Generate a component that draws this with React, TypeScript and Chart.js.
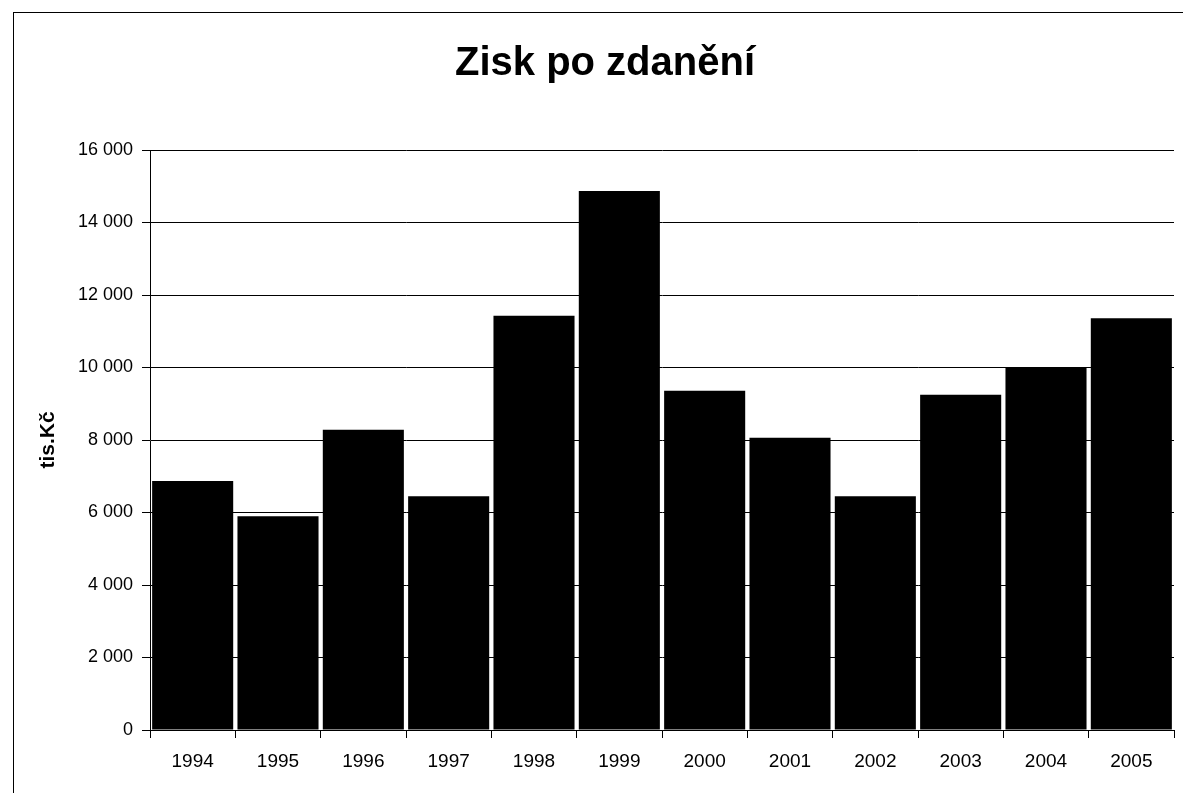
import React, { useEffect, useRef } from "react";
import { Chart, registerables } from "chart.js";

Chart.register(...registerables);

const chartTitle = "Zisk po zdanění";
const yAxisTitle = "tis.Kč";
const years = ["1994", "1995", "1996", "1997", "1998", "1999", "2000", "2001", "2002", "2003", "2004", "2005"];
const profit = [6870, 5900, 8280, 6450, 11430, 14870, 9360, 8060, 6450, 9250, 10010, 11360];
const yMin = 0;
const yMax = 16000;
const yStep = 2000;

const FONT = "'Liberation Sans', Arial, sans-serif";
const fmt = (v: number) => String(v).replace(/\B(?=(\d{3})+(?!\d))/g, " ");

export default function App() {
  const ref = useRef<HTMLCanvasElement | null>(null);
  useEffect(() => {
    document.body.style.margin = "0";
    const ctx = ref.current!.getContext("2d")!;
    const chart = new Chart(ctx, {
      type: "bar",
      data: {
        labels: years,
        datasets: [
          {
            data: profit,
            backgroundColor: "#000",
            borderWidth: 0,
            barPercentage: 0.95,
            categoryPercentage: 1,
          },
        ],
      },
      options: {
        animation: false,
        responsive: false,
        maintainAspectRatio: false,
        layout: { padding: { left: 36, right: 9, top: 0, bottom: 0 } },
        plugins: {
          legend: { display: false },
          tooltip: { enabled: false },
          title: {
            display: true,
            text: chartTitle,
            color: "#000",
            font: { family: FONT, size: 40, weight: "bold" },
            padding: { top: 40, bottom: 62 },
          },
        },
        scales: {
          x: {
            offset: true,
            grid: { display: true, offset: true, drawOnChartArea: false, drawTicks: true, tickLength: 8, color: "#000" },
            border: { display: true, color: "#000", width: 1 },
            ticks: {
              color: "#000",
              font: { family: FONT, size: 19 },
              padding: 12,
              maxRotation: 0,
            },
            afterFit: (s: any) => {
              s.height = 63;
            },
          },
          y: {
            min: yMin,
            max: yMax,
            grid: { color: "#000", lineWidth: 1, drawTicks: true, tickLength: 8 },
            border: { display: true, color: "#000", width: 1 },
            ticks: {
              stepSize: yStep,
              color: "#000",
              padding: 9,
              font: { family: FONT, size: 18 },
              callback: (v: any) => fmt(Number(v)),
            },
            title: {
              display: true,
              text: yAxisTitle,
              color: "#000",
              font: { family: FONT, size: 21, weight: "bold" },
              padding: { top: 0, bottom: 0 },
            },
            afterFit: (s: any) => {
              s.width = 114;
            },
          },
        },
      },
    });
    return () => chart.destroy();
  }, []);
  return (
    <div style={{ position: "relative", width: 1183, height: 793, background: "#fff", overflow: "hidden" }}>
      <div
        style={{
          position: "absolute",
          left: 13,
          top: 12,
          right: 0,
          bottom: 0,
          borderTop: "1.5px solid #000",
          borderLeft: "1.5px solid #000",
        }}
      />
      <canvas ref={ref} width={1183} height={793} style={{ position: "absolute", left: 0, top: 0 }} />
    </div>
  );
}
